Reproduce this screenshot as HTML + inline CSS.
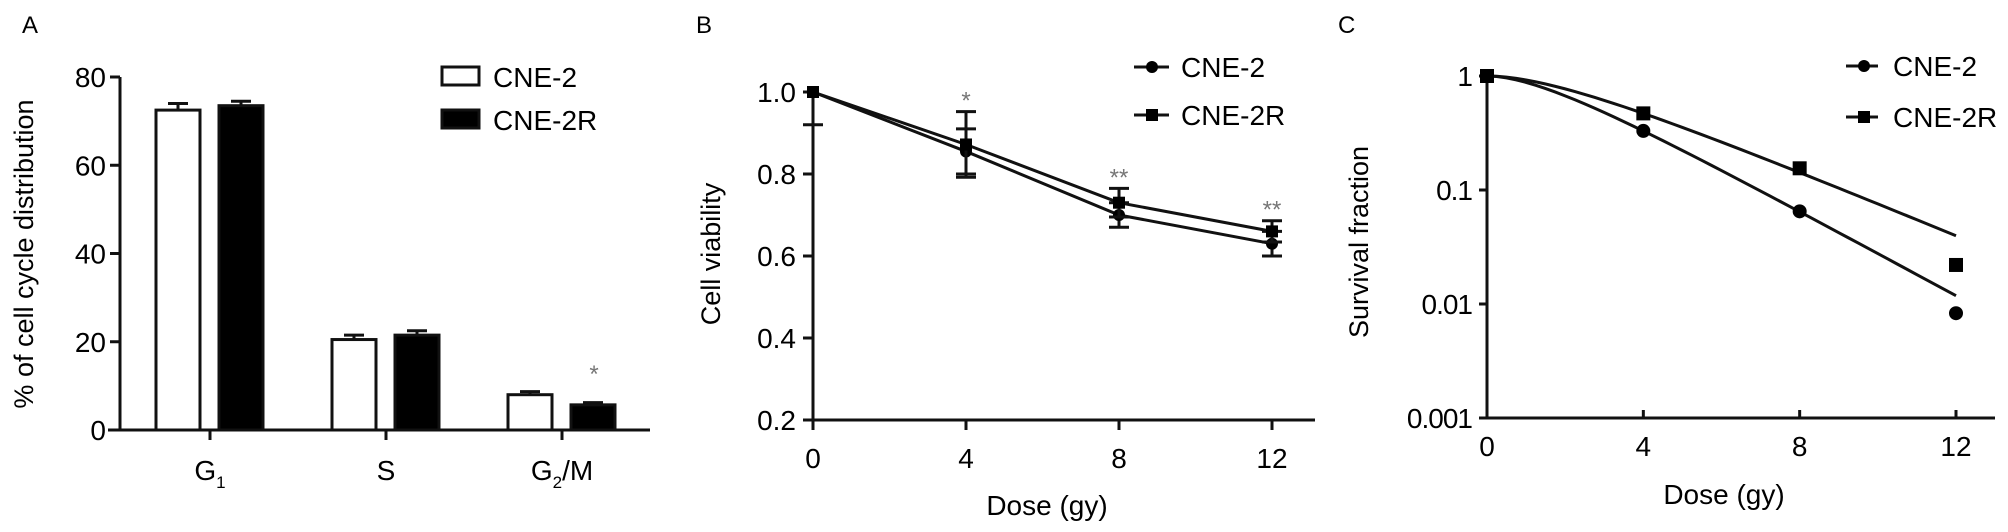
<!DOCTYPE html>
<html><head><meta charset="utf-8"><style>
html,body{margin:0;padding:0;background:#fff;}
svg{display:block;font-family:"Liberation Sans",Arial,sans-serif;}
</style></head><body>
<svg id="fig" width="2008" height="532" viewBox="0 0 2008 532" xmlns="http://www.w3.org/2000/svg"></svg>
<script>
// ---- Panel A data ----
const catsA = ["G1","S","G2/M"];
const cne2A = [72.5, 20.5, 8.0];
const cne2rA = [73.5, 21.5, 5.7];
const errA1 = [1.5, 1.0, 0.7];
const errA2 = [1.0, 1.0, 0.5];
const ticksA = [0,20,40,60,80];
// ---- Panel B data ----
const doseB = [0,4,8,12];
const cne2B = [1.0, 0.855, 0.70, 0.63];
const cne2rB = [1.0, 0.872, 0.73, 0.66];
const errB1 = [0.08, 0.055, 0.03, 0.03];
const errB2 = [0.0, 0.08, 0.035, 0.026];
const sigB = ["", "*", "**", "**"];
const ticksBy = [0.2,0.4,0.6,0.8,1.0];
const ticksBx = [0,4,8,12];
// ---- Panel C data ----
const doseC = [0,4,8,12];
const cne2C = [1.0, 0.33, 0.065, 0.0083];
const cne2rC = [1.0, 0.47, 0.155, 0.022];
const fitD0 = [2.34, 3.07];
const fitN = [2, 2];
const ticksCy = [1, 0.1, 0.01, 0.001];
const ticksCyLabels = ["1","0.1","0.01","0.001"];
const ticksCx = [0,4,8,12];

const NS="http://www.w3.org/2000/svg";
const svg=document.getElementById('fig');
function mk(tag,attrs,parent,text){
  const e=document.createElementNS(NS,tag);
  for(const k in attrs) e.setAttribute(k,attrs[k]);
  if(text!==undefined) e.textContent=text;
  (parent||svg).appendChild(e);
  return e;
}
function grp(name){const g=mk('g',{});return g;}
const LW=3;

// ================= Panel A =================
(function(){
  const g=grp('panel-a');
  const x0=120,x1=650,y0=430,yTop=77;
  const ys=v=>y0-(v/80)*(y0-yTop);
  const catX=[210,386,562];
  const t=mk('text',{x:22,y:33,'font-size':24},g,'A');
  
  const ya=mk('line',{x1:x0,y1:y0+1,x2:x0,y2:yTop,stroke:'#111','stroke-width':LW},g);
  
  const xa=mk('line',{x1:x0-12,y1:y0,x2:x1,y2:y0,stroke:'#111','stroke-width':LW},g);
  
  ticksA.forEach(v=>{
    mk('line',{x1:x0-10,y1:ys(v),x2:x0,y2:ys(v),stroke:'#111','stroke-width':LW},g);
    const tl=mk('text',{x:106,y:ys(v)+10,'font-size':28,'text-anchor':'end'},g,String(v));
    
  });
  const yt=mk('text',{x:0,y:0,'font-size':27,'text-anchor':'middle',transform:'translate(33,254) rotate(-90)'},g,'% of cell cycle distribution');
  
  const bw=44;
  catsA.forEach((c,i)=>{
    const cx=catX[i];
    mk('line',{x1:cx,y1:y0,x2:cx,y2:y0+10,stroke:'#111','stroke-width':LW},g);
    const xw=cx-54;
    mk('line',{x1:xw+bw/2,y1:ys(cne2A[i]),x2:xw+bw/2,y2:ys(cne2A[i]+errA1[i]),stroke:'#111','stroke-width':LW},g);
    mk('line',{x1:xw+bw/2-10,y1:ys(cne2A[i]+errA1[i]),x2:xw+bw/2+10,y2:ys(cne2A[i]+errA1[i]),stroke:'#111','stroke-width':LW},g);
    const b1=mk('rect',{x:xw,y:ys(cne2A[i]),width:bw,height:y0-ys(cne2A[i]),fill:'#fff',stroke:'#111','stroke-width':LW},g);
    
    const xb=cx+9;
    mk('line',{x1:xb+bw/2,y1:ys(cne2rA[i]),x2:xb+bw/2,y2:ys(cne2rA[i]+errA2[i]),stroke:'#111','stroke-width':LW},g);
    mk('line',{x1:xb+bw/2-10,y1:ys(cne2rA[i]+errA2[i]),x2:xb+bw/2+10,y2:ys(cne2rA[i]+errA2[i]),stroke:'#111','stroke-width':LW},g);
    const b2=mk('rect',{x:xb,y:ys(cne2rA[i]),width:bw,height:y0-ys(cne2rA[i]),fill:'#000',stroke:'#111','stroke-width':LW},g);
    
    const lab=mk('text',{x:cx,y:480,'font-size':28,'text-anchor':'middle'},g);
    
    if(c==='G1'){lab.textContent='G';mk('tspan',{'font-size':17,dy:8},lab,'1');}
    else if(c==='G2/M'){lab.textContent='G';mk('tspan',{'font-size':17,dy:8},lab,'2');mk('tspan',{dy:-8},lab,'/M');}
    else lab.textContent=c;
  });
  const st=mk('text',{x:594,y:382,'font-size':24,fill:'#777','text-anchor':'middle'},g,'*');
  
  const l1=mk('rect',{x:442,y:67,width:37,height:18,fill:'#fff',stroke:'#111','stroke-width':LW},g);
  
  const lt1=mk('text',{x:493,y:87,'font-size':28},g,'CNE-2');
  
  const l2=mk('rect',{x:442,y:110,width:37,height:18,fill:'#000',stroke:'#111','stroke-width':LW},g);
  
  const lt2=mk('text',{x:493,y:130,'font-size':28},g,'CNE-2R');
  
})();

// ================= Panel B =================
(function(){
  const g=grp('panel-b');
  const x0=813,unit=(1272-813)/12,y0=420,yTop=92;
  const xs=d=>x0+d*unit;
  const ys=v=>y0-(v-0.2)/0.8*(y0-yTop);
  const t=mk('text',{x:696,y:33,'font-size':24},g,'B');
  
  const ya=mk('line',{x1:x0,y1:y0+10,x2:x0,y2:yTop,stroke:'#111','stroke-width':LW},g);
  
  const xa=mk('line',{x1:x0-10,y1:y0,x2:1315,y2:y0,stroke:'#111','stroke-width':LW},g);
  
  ticksBy.forEach(v=>{
    mk('line',{x1:x0-10,y1:ys(v),x2:x0,y2:ys(v),stroke:'#111','stroke-width':LW},g);
    const tl=mk('text',{x:796,y:ys(v)+10,'font-size':28,'text-anchor':'end'},g,v.toFixed(1));
    
  });
  ticksBx.forEach(d=>{
    mk('line',{x1:xs(d),y1:y0,x2:xs(d),y2:y0+10,stroke:'#111','stroke-width':LW},g);
    const tl=mk('text',{x:xs(d),y:468,'font-size':28,'text-anchor':'middle'},g,String(d));
    
  });
  const yt=mk('text',{x:0,y:0,'font-size':27,'text-anchor':'middle',transform:'translate(720,254) rotate(-90)'},g,'Cell viability');
  
  const xt=mk('text',{x:1047,y:515,'font-size':28,'text-anchor':'middle'},g,'Dose (gy)');
  
  [[cne2B,errB1,'circle','cne2'],[cne2rB,errB2,'square','cne2r']].forEach(([vals,errs,shape,nm])=>{
    const p=mk('polyline',{points:doseB.map((d,i)=>xs(d)+','+ys(vals[i])).join(' '),fill:'none',stroke:'#111','stroke-width':LW},g);
    
    doseB.forEach((d,i)=>{
      const x=xs(d),y=ys(vals[i]);
      if(errs[i]>0){
        const clipUpper = vals[i]+errs[i] > 1.0;
        const yHi = clipUpper ? y : ys(vals[i]+errs[i]);
        mk('line',{x1:x,y1:yHi,x2:x,y2:ys(vals[i]-errs[i]),stroke:'#111','stroke-width':LW},g);
        if(!clipUpper) mk('line',{x1:x-10,y1:yHi,x2:x+10,y2:yHi,stroke:'#111','stroke-width':LW},g);
        mk('line',{x1:x-10,y1:ys(vals[i]-errs[i]),x2:x+10,y2:ys(vals[i]-errs[i]),stroke:'#111','stroke-width':LW},g);
      }
      const m=shape==='circle'?mk('circle',{cx:x,cy:y,r:6,fill:'#000'},g):mk('rect',{x:x-6,y:y-6,width:12,height:12,fill:'#000'},g);
      
    });
  });
  doseB.forEach((d,i)=>{
    if(!sigB[i])return;
    const top=Math.max(cne2B[i]+errB1[i],cne2rB[i]+errB2[i]);
    const s=mk('text',{x:xs(d),y:ys(top)-3,'font-size':24,fill:'#777','text-anchor':'middle'},g,sigB[i]);
    
  });
  [[67,'circle','CNE-2'],[115,'square','CNE-2R']].forEach(([y,shape,lab])=>{
    mk('line',{x1:1134,y1:y,x2:1169,y2:y,stroke:'#111','stroke-width':LW},g);
    shape==='circle'?mk('circle',{cx:1152,cy:y,r:6,fill:'#000'},g):mk('rect',{x:1146,y:y-6,width:12,height:12,fill:'#000'},g);
    const lt=mk('text',{x:1181,y:y+10,'font-size':28},g,lab);
    
  });
})();

// ================= Panel C =================
(function(){
  const g=grp('panel-c');
  const x0=1487,unit=(1956-1487)/12,y0=418,yTop=76;
  const xs=d=>x0+d*unit;
  const ys=v=>yTop+(-Math.log10(v))/3*(y0-yTop);
  const t=mk('text',{x:1338,y:33,'font-size':24},g,'C');
  
  const ya=mk('line',{x1:x0,y1:y0,x2:x0,y2:yTop,stroke:'#111','stroke-width':LW},g);
  
  const xa=mk('line',{x1:x0,y1:y0,x2:1995,y2:y0,stroke:'#111','stroke-width':LW},g);
  
  ticksCy.forEach((v,i)=>{
    mk('line',{x1:x0-8,y1:ys(v),x2:x0,y2:ys(v),stroke:'#111','stroke-width':LW},g);
    const tl=mk('text',{x:1472,y:ys(v)+10,'font-size':28,'text-anchor':'end','letter-spacing':'-1'},g,ticksCyLabels[i]);
    
  });
  ticksCx.forEach(d=>{
    mk('line',{x1:xs(d),y1:y0,x2:xs(d),y2:y0-8,stroke:'#111','stroke-width':LW},g);
    const tl=mk('text',{x:xs(d),y:456,'font-size':28,'text-anchor':'middle'},g,String(d));
    
  });
  const yt=mk('text',{x:0,y:0,'font-size':27,'text-anchor':'middle',transform:'translate(1368,242) rotate(-90)'},g,'Survival fraction');
  
  const xt=mk('text',{x:1724,y:504,'font-size':28,'text-anchor':'middle'},g,'Dose (gy)');
  
  [[cne2C,0,'circle','cne2'],[cne2rC,1,'square','cne2r']].forEach(([vals,k,shape,nm])=>{
    const pts=[];
    for(let d=0;d<=12.001;d+=0.25){
      const s=1-Math.pow(1-Math.exp(-d/fitD0[k]),fitN[k]);
      pts.push(xs(d)+','+ys(s));
    }
    const p=mk('polyline',{points:pts.join(' '),fill:'none',stroke:'#111','stroke-width':LW},g);
    
    doseC.forEach((d,i)=>{
      const x=xs(d),y=ys(vals[i]);
      const m=shape==='circle'?mk('circle',{cx:x,cy:y,r:7,fill:'#000'},g):mk('rect',{x:x-7,y:y-7,width:14,height:14,fill:'#000'},g);
      
    });
  });
  [[66,'circle','CNE-2'],[117,'square','CNE-2R']].forEach(([y,shape,lab])=>{
    mk('line',{x1:1846,y1:y,x2:1878,y2:y,stroke:'#111','stroke-width':LW},g);
    shape==='circle'?mk('circle',{cx:1864,cy:y,r:6,fill:'#000'},g):mk('rect',{x:1858,y:y-6,width:12,height:12,fill:'#000'},g);
    const lt=mk('text',{x:1893,y:y+10,'font-size':28},g,lab);
    
  });
})();
</script>
</body></html>
